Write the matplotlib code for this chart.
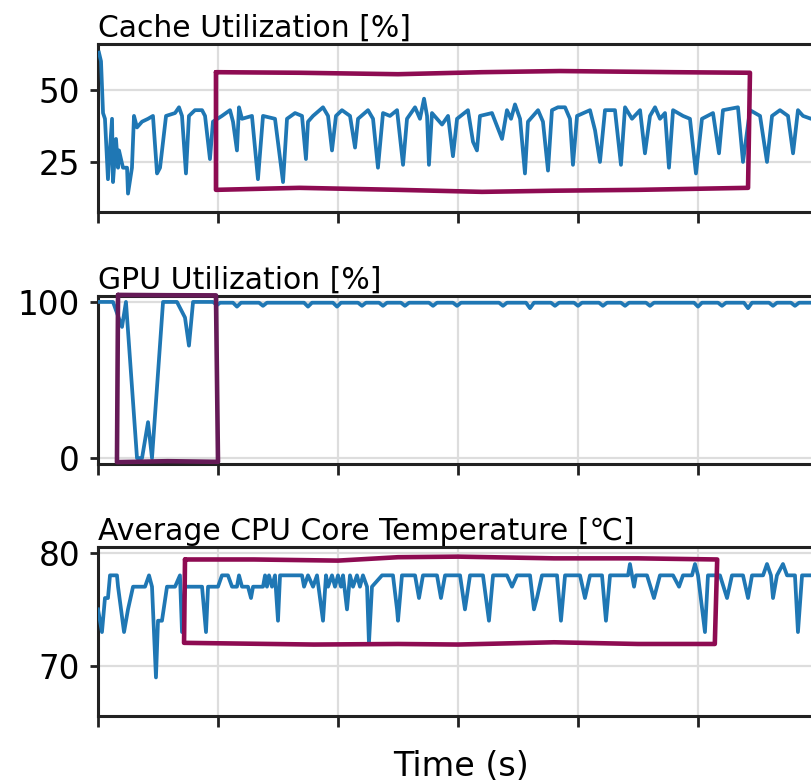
import matplotlib
matplotlib.use("Agg")
import matplotlib.pyplot as plt

# ---------------- data ----------------
cache_t = [0.08, 0.25, 0.42, 0.58, 0.83, 1.17, 1.25, 1.5, 1.67, 1.75, 2.08, 2.42, 2.5, 2.83,
           3.0, 3.25, 3.67, 4.17, 4.58, 4.92, 5.17, 5.42, 5.67, 6.42, 6.75, 7.0, 7.33, 7.58,
           8.08, 8.67, 8.92, 9.33, 9.58, 10.33, 11.0, 11.25, 11.58, 11.75, 12.0, 12.83, 13.33,
           13.75, 14.75, 15.42, 15.75, 16.42, 17.0, 17.33, 17.5, 17.92, 18.75, 19.17, 19.5,
           19.83, 20.33, 21.0, 21.42, 21.67, 22.5, 22.92, 23.33, 23.75, 24.33, 24.92, 25.42,
           25.75, 26.42, 26.83, 27.17, 27.42, 27.58, 27.83, 28.67, 29.17, 29.58, 29.92, 30.83,
           31.25, 31.58, 31.83, 32.83, 33.67, 34.08, 34.42, 34.75, 35.17, 35.58, 35.83, 36.67,
           37.08, 37.5, 37.83, 38.33, 38.92, 39.33, 39.58, 39.92, 41.0, 41.42, 41.83, 42.25,
           43.08, 43.58, 43.92, 44.5, 45.17, 45.58, 46.0, 46.42, 46.83, 47.25, 47.58, 47.92,
           48.75, 49.33, 49.83, 50.33, 51.25, 51.75, 52.08, 53.33, 53.75, 54.33, 55.17, 55.75,
           56.17, 56.83, 57.5, 57.92, 58.33, 58.75, 59.42, 60.0, 60.58]
cache_v = [63, 60, 42, 40, 19, 40, 18, 33, 23, 29, 23, 23, 14, 23,
           41, 37, 39, 40, 41, 21, 23, 32, 41, 42, 44, 41, 21, 41,
           43, 43, 41, 26, 39, 41, 43, 39, 29, 44, 40, 41, 19,
           41, 40, 18, 40, 42, 41, 26, 39, 41, 44, 41, 29,
           41, 43, 41, 30, 40, 43, 40, 23, 42, 41, 43, 24,
           40, 44, 40, 47, 41, 24, 42, 38, 41, 27, 40, 43,
           32, 29, 41, 42, 33, 43, 40, 45, 40, 21, 39, 43,
           39, 22, 43, 44, 44, 40, 24, 41, 43, 36, 25, 43,
           43, 24, 44, 40, 43, 28, 41, 44, 40, 42, 23, 43,
           41, 40, 21, 40, 42, 28, 43, 44, 25, 43, 41, 25,
           41, 43, 41, 28, 43, 41, 40, 41, 42]

gpu_t = [0, 1.25, 2.0, 2.33, 3.25, 3.67, 4.17, 4.5, 5.42, 6.58, 7.25, 7.58, 7.92, 9.58, 9.92, 10.17,
         11.25, 11.58, 11.92, 13.42, 13.75, 14.08, 17.17, 17.5, 17.83, 19.58, 19.92, 20.25,
         21.67, 22.0, 22.33, 23.42, 23.75, 24.08, 25.25, 25.58, 25.92, 27.58, 27.92, 28.25,
         29.58, 29.92, 30.25, 33.42, 33.75, 34.08, 35.67, 36.0, 36.33, 37.75, 38.08, 38.42,
         39.67, 40.0, 40.33, 41.75, 42.08, 42.42, 43.58, 43.92, 44.25, 45.67, 46.0, 46.33,
         49.67, 50.0, 50.33, 51.67, 52.0, 52.33, 53.83, 54.17, 54.5, 55.92, 56.25, 56.58,
         57.75, 58.08, 58.42, 60.58]
gpu_v = [100, 100, 84, 100, 0, 0, 23, 0, 100, 100, 90, 72, 100, 100, 98, 99.5,
         99.5, 97, 99.5, 99.5, 97.5, 99.5, 99.5, 97, 99.5, 99.5, 97, 99.5,
         99.5, 97.5, 99.5, 99.5, 97.5, 99.5, 99.5, 97.5, 99.5, 99.5, 97.5, 99.5,
         99.5, 97.5, 99.5, 99.5, 97.5, 99.5, 99.5, 96, 99.5, 99.5, 97.5, 99.5,
         99.5, 97.5, 99.5, 99.5, 97.5, 99.5, 99.5, 97.5, 99.5, 99.5, 97.5, 99.5,
         99.5, 97, 99.5, 99.5, 97.5, 99.5, 99.5, 96, 99.5, 99.5, 97.5, 99.5,
         99.5, 97.5, 99.5, 99.5]

temp_t = [0, 0.33, 0.58, 0.83, 1.0, 1.58, 1.67, 2.17, 2.5, 2.92, 3.92, 4.25, 4.5, 4.83, 5.0,
          5.33, 5.75, 6.42, 6.83, 7.0, 7.25, 8.67, 9.0, 9.17, 10.0, 10.33, 10.83, 11.17, 11.58,
          11.75, 12.0, 12.5, 12.75, 12.92, 13.75, 13.92, 14.08, 14.25, 14.5, 14.75, 15.0, 15.17,
          17.0, 17.17, 17.5, 17.92, 18.25, 18.75, 19.0, 19.17, 19.5, 19.75, 20.0, 20.25, 20.42,
          20.75, 21.0, 21.25, 21.58, 21.83, 22.08, 22.42, 22.58, 22.83, 23.67, 24.58, 24.92,
          25.0, 25.33, 26.42, 26.75, 27.08, 28.25, 28.58, 28.92, 30.17, 30.58, 31.0, 32.08,
          32.58, 32.92, 34.08, 34.5, 34.92, 36.0, 36.33, 36.58, 37.0, 38.25, 38.58, 38.92,
          40.17, 40.58, 41.0, 42.0, 42.33, 42.67, 44.17, 44.33, 44.5, 44.67, 44.83, 45.75,
          46.33, 46.83, 47.92, 48.42, 48.75, 49.5, 49.75, 50.0, 50.58, 50.83, 51.83, 52.42,
          52.83, 53.75, 54.17, 54.5, 55.42, 55.75, 56.08, 56.25, 56.58, 57.08, 57.42, 58.08,
          58.33, 58.67, 60.58]
temp_v = [75, 73, 76, 76, 78, 78, 77, 73, 75, 77, 77, 78, 77, 69, 74,
          74, 77, 77, 78, 73, 77, 77, 73, 77, 77, 78, 78, 77, 77,
          78, 77, 77, 76, 77, 77, 78, 77, 78, 77, 78, 74, 78,
          78, 77, 78, 77, 78, 74, 78, 77, 78, 77, 78, 77, 78,
          75, 78, 77, 78, 77, 78, 77, 72, 77, 78, 78, 75,
          74, 78, 78, 76, 78, 78, 76, 78, 78, 75, 78, 78,
          74, 78, 78, 77, 78, 78, 75, 76, 78, 78, 74, 78,
          78, 76, 78, 78, 74, 78, 78, 79, 78, 77, 78, 78,
          76, 78, 78, 77, 78, 78, 79, 78, 73, 78, 78, 76,
          78, 78, 76, 78, 78, 79, 78, 76, 78, 79, 78, 78,
          73, 78, 78]

titles = ["Cache Utilization [%]", "GPU Utilization [%]", "Average CPU Core Temperature [\u2103]"]
yticks = [[25, 50], [0, 100], [70, 80]]
ylims = [(7.6, 66), (-3.8, 103.8), (65.6, 80.5)]
xticks = [0, 10, 20, 30, 40, 50, 60]

# highlight boxes (data coords: time, value), drawn as slightly wobbly outlines
box1_t = [9.83, 16.8, 25.0, 32.0, 38.5, 48.0, 54.33, 54.17, 45.0, 38.0, 32.0, 25.0, 16.8, 9.83, 9.83]
box1_v = [56.2, 56.0, 55.5, 56.2, 56.6, 56.2, 56.0, 16.0, 15.3, 15.0, 14.6, 15.3, 16.0, 15.3, 56.2]
box2_t = [1.67, 5.8, 9.83, 10.0, 5.8, 1.58, 1.67]
box2_v = [104.5, 104.3, 104.2, -2.4, -2.0, -2.6, 104.5]
box3_t = [7.25, 13.0, 20.0, 25.0, 30.0, 38.0, 45.0, 51.6, 51.4, 45.0, 38.0, 30.0, 25.0, 18.0, 7.17, 7.25]
box3_v = [79.4, 79.4, 79.3, 79.6, 79.65, 79.5, 79.5, 79.4, 71.95, 71.95, 72.1, 71.9, 71.95, 71.9, 72.05, 79.4]

# ---------------- plot ----------------
W, H = 811, 784
fig = plt.figure(figsize=(W / 100, H / 100), dpi=100)

line_color = "#1f77b4"
box_colors = ["#8E0B52", "#651A57", "#8E0B52"]
series = [(cache_t, cache_v), (gpu_t, gpu_v), (temp_t, temp_v)]
boxes = [(box1_t, box1_v), (box2_t, box2_v), (box3_t, box3_v)]
# (top px, bottom px)
rows = [(44, 212), (296, 464), (547, 716)]
left_px, right_px = 98, 824

axes = []
for i, ((tp, bp), (t, v)) in enumerate(zip(rows, series)):
    ax = fig.add_axes([left_px / W, (H - bp) / H, (right_px - left_px) / W, (bp - tp) / H])
    ax.plot(t, v, color=line_color, lw=2.7, solid_joinstyle="round", zorder=3)
    ax.set_xlim(0, 60.5)
    ax.set_ylim(*ylims[i])
    ax.set_xticks(xticks)
    ax.set_xticklabels([""] * len(xticks))
    ax.set_yticks(yticks[i])
    ax.tick_params(axis="both", labelsize=23.5, width=2.0, length=6, color="#222222", pad=7)
    ax.tick_params(axis="x", length=8)
    ax.grid(True, color="#dddddd", lw=1.6, zorder=0)
    for s in ["left", "bottom", "top"]:
        ax.spines[s].set_linewidth(2.2)
        ax.spines[s].set_color("#222222")
    ax.spines["right"].set_visible(False)
    ax.set_title(titles[i], loc="left", fontsize=21.5, pad=5)
    bt, bv = boxes[i]
    ax.plot(bt, bv, color=box_colors[i], lw=3.3, solid_joinstyle="round",
            solid_capstyle="round", clip_on=False, zorder=5)
    axes.append(ax)

axes[-1].set_xlabel("Time (s)", fontsize=24)
axes[-1].xaxis.set_label_coords(0.5, -0.2)

fig.savefig("out.png", dpi=100)
